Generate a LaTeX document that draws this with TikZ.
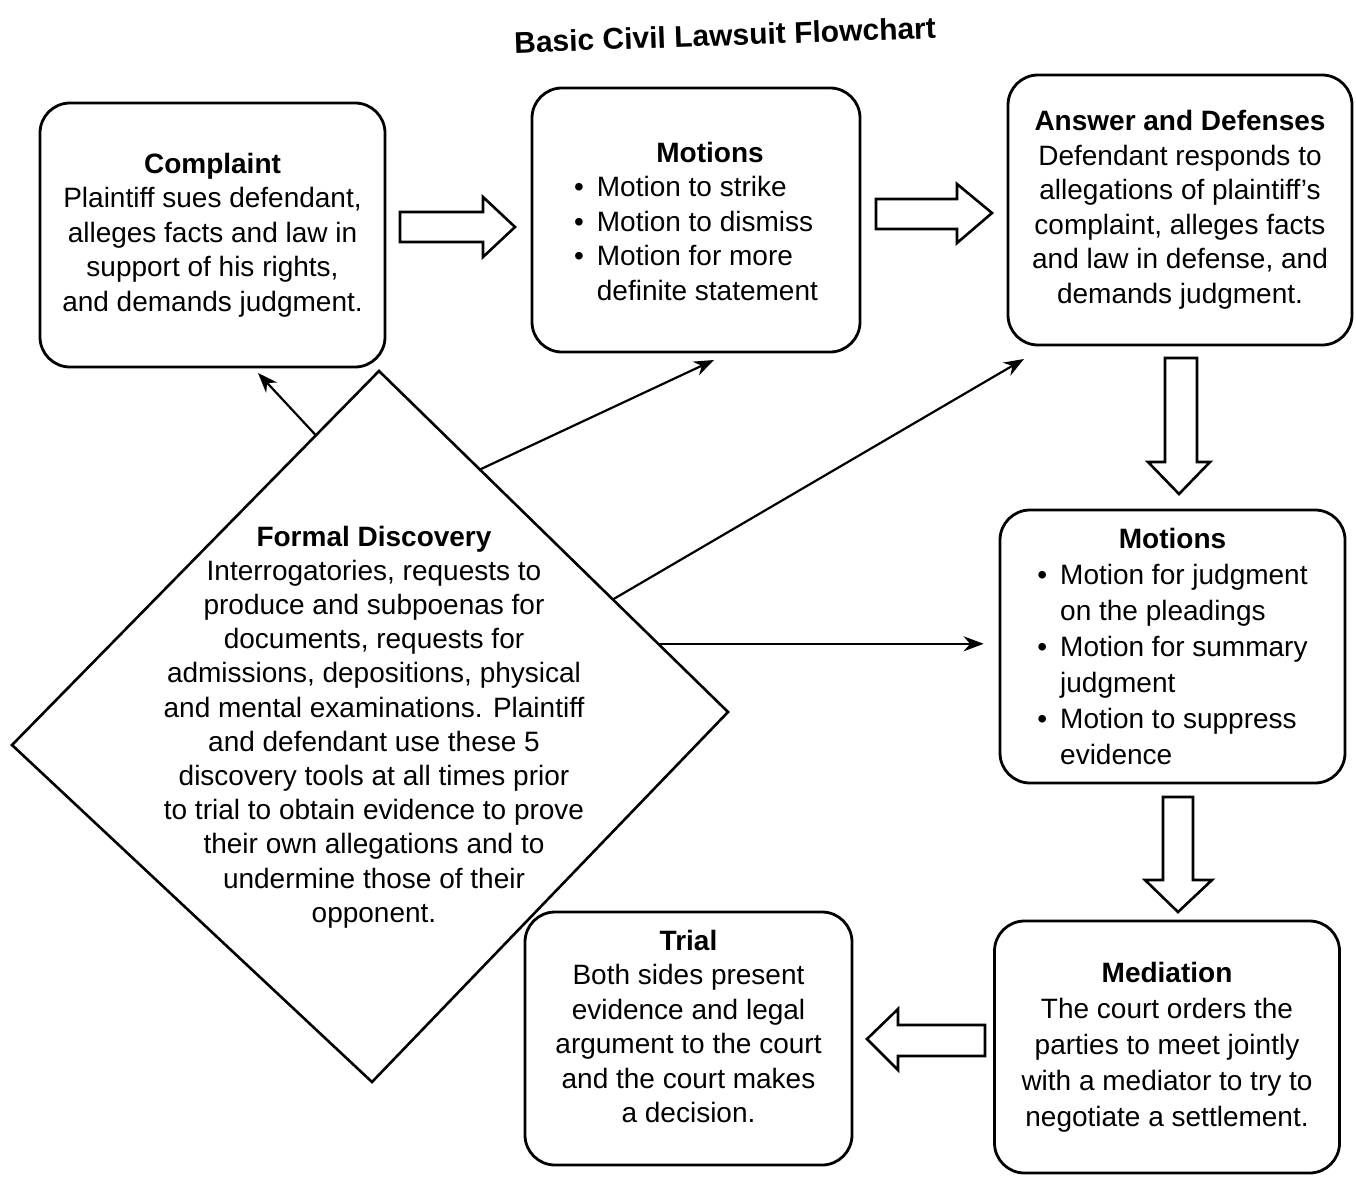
\documentclass[tikz,border=0pt]{standalone}
\usepackage{fontspec}
\setmainfont{Liberation Sans}
\usetikzlibrary{arrows.meta,calc}
\begin{document}
\begin{tikzpicture}[x=1pt,y=-1pt,
  box/.style={draw, line width=2.8pt, rounded corners=30pt, fill=white, align=center,
    inner sep=0pt, font=\fontsize{28}{34.5}\selectfont},
  widebox/.style={box, font=\fontsize{28}{36}\selectfont},
  link/.style={line width=2.2pt, -{Stealth[length=20pt,width=15pt]}},
  blockarr/.style={draw, line width=2.6pt, fill=white, line join=miter},
  disctext/.style={align=center, inner sep=0pt, font=\fontsize{28}{34.2}\selectfont},
]
\useasboundingbox[fill=white] (0,0) rectangle (1356,1180);

% title
\node[font=\fontsize{30}{34}\selectfont\bfseries, rotate=2] (title) at (725,35) {Basic Civil Lawsuit Flowchart};

% boxes
\node[box, minimum width=345pt, minimum height=264pt] (complaint) at (212.5,235)
  {{\bfseries Complaint}\\Plaintiff sues defendant,\\alleges facts and law in\\support of his rights,\\and demands judgment.};

\node[box, minimum width=328pt, minimum height=264pt] (mot1) at (696,220)
  {\rule{0pt}{33pt}\hspace{28pt}{\bfseries Motions}\\
   \begin{tabular}[t]{@{}l@{\hspace{13pt}}l@{}}
   \textbullet & Motion to strike\\
   \textbullet & Motion to dismiss\\
   \textbullet & Motion for more\\
    & definite statement
   \end{tabular}};

\node[box, minimum width=344pt, minimum height=270pt] (answer) at (1180,210)
  {{\bfseries Answer and Defenses}\\Defendant responds to\\allegations of plaintiff’s\\complaint, alleges facts\\and law in defense, and\\demands judgment.};

\node[widebox, minimum width=345pt, minimum height=273pt] (mot2) at (1172.5,646.5)
  {\rule{0pt}{30pt}{\bfseries Motions}\\
   \begin{tabular}[t]{@{}l@{\hspace{13pt}}l@{}}
   \textbullet & Motion for judgment\\
    & on the pleadings\\
   \textbullet & Motion for summary\\
    & judgment\\
   \textbullet & Motion to suppress\\
    & evidence
   \end{tabular}};

\node[widebox, minimum width=345pt, minimum height=252pt] (mediation) at (1167,1047)
  {{\bfseries Mediation}\\The court orders the\\parties to meet jointly\\with a mediator to try to\\negotiate a settlement.};

\node[box, minimum width=327pt, minimum height=253pt] (trial) at (688.5,1038.5)
  {{\bfseries Trial}\\Both sides present\\evidence and legal\\argument to the court\\and the court makes\\a decision.\rule[-24pt]{0pt}{0pt}};

% diamond
\coordinate (dT) at (379,371);
\coordinate (dR) at (728,712);
\coordinate (dB) at (372,1082);
\coordinate (dL) at (12,745);
\draw[line width=2.6pt, fill=white, line join=miter] (dT) -- (dR) -- (dB) -- (dL) -- cycle;
\node[disctext] (disc) at (374,727)
  {{\bfseries Formal Discovery}\\Interrogatories, requests to\\produce and subpoenas for\\documents, requests for\\admissions, depositions, physical\\and mental examinations. Plaintiff\\and defendant use these 5\\discovery tools at all times prior\\to trial to obtain evidence to prove\\their own allegations and to\\undermine those of their\\opponent.};

% block arrows
\draw[blockarr] (400,212) -- (483,212) -- (483,197) -- (515,227) -- (483,257) -- (483,242) -- (400,242) -- cycle;
\draw[blockarr] (876,199) -- (957,199) -- (957,184) -- (992,213) -- (957,243) -- (957,229) -- (876,229) -- cycle;
\draw[blockarr] (1165,358) -- (1165,462) -- (1148,462) -- (1179,494) -- (1210,462) -- (1197,462) -- (1197,358) -- cycle;
\draw[blockarr] (1163,797) -- (1163,880) -- (1145,880) -- (1178,912) -- (1212,880) -- (1193,880) -- (1193,797) -- cycle;
\draw[blockarr] (985,1025) -- (898,1025) -- (898,1009) -- (867,1039) -- (898,1070) -- (898,1056) -- (985,1056) -- cycle;

% connectors from the diamond
\coordinate (s1) at ($(dT)!0.172!(dL)$);
\coordinate (s2) at ($(dT)!0.289!(dR)$);
\coordinate (s3) at ($(dT)!0.670!(dR)$);
\coordinate (s4) at ($(dT)!0.800!(dR)$);
\coordinate (e1) at (258,373);
\coordinate (e2) at (714,360);
\coordinate (e3) at (1024,359);
\draw[link] (s1) -- (e1);
\draw[link] (s2) -- (e2);
\draw[link] (s3) -- (e3);
\draw[link, shorten >=15pt] (s4) -- (s4 -| mot2.west);
\end{tikzpicture}
\end{document}
